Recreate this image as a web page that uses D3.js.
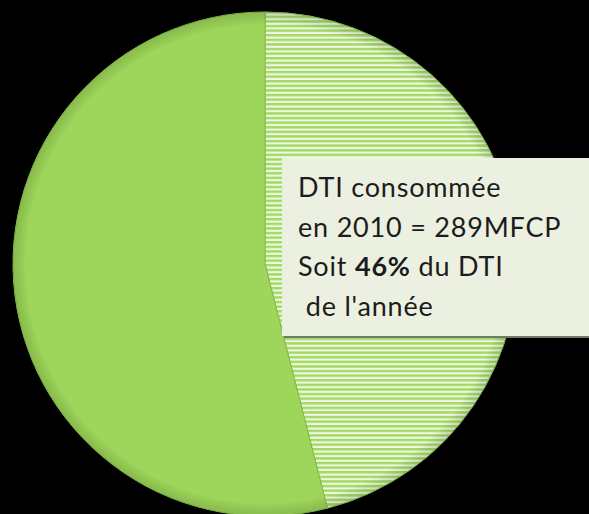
<!DOCTYPE html>
<html>
<head>
<meta charset="utf-8">
<script src="https://cdn.jsdelivr.net/npm/d3@7"></script>
<style>
  body { margin: 0; background: #000; }
  svg { display: block; }
</style>
</head>
<body>
<svg id="chart"></svg>
<script>
// data
const categories = ["DTI consommée", "DTI restante"];
const values = [289, 339];
const labelLines = [
    [{t: "DTI consommée"}],
    [{t: "en 2010 = 289MFCP"}],
    [{t: "Soit "}, {t: "46%", bold: true}, {t: " du DTI"}],
    [{t: "\u00a0de l'année"}]
];

const width = 589;
const height = 514;
const cx = 265;
const cy = 264;
const radius = 252;

const svg = d3.select("#chart")
    .attr("width", width)
    .attr("height", height);

const defs = svg.append("defs");

// horizontal stripes for the consumed slice
const pat = defs.append("pattern")
    .attr("id", "stripes")
    .attr("patternUnits", "userSpaceOnUse")
    .attr("width", 8)
    .attr("height", 4.6);
pat.append("rect").attr("width", 8).attr("height", 4.6).attr("fill", "#f0f9e6");
pat.append("rect").attr("y", 0).attr("width", 8).attr("height", 2.5).attr("fill", "#a2da62");

// soft shading so the pie looks a bit raised
const shade = defs.append("radialGradient")
    .attr("id", "shade")
    .attr("cx", "50%").attr("cy", "50%").attr("r", "50%");
shade.append("stop").attr("offset", "0.95").attr("stop-color", "#000").attr("stop-opacity", 0);
shade.append("stop").attr("offset", "1").attr("stop-color", "#2a4a10").attr("stop-opacity", 0.18);

const fills = ["url(#stripes)", "#9dd65a"];

const pie = d3.pie().value(d => d).sort(null);
const arc = d3.arc().innerRadius(0).outerRadius(radius);

const g = svg.append("g")
    .attr("transform", "translate(" + cx + "," + cy + ")");

g.selectAll("path.slice")
    .data(pie(values))
    .enter()
    .append("path")
    .attr("class", "slice")
    .attr("d", arc)
    .attr("fill", (d, i) => fills[i])
    .attr("stroke", "#86bb4a")
    .attr("stroke-width", 1)
    .append("title")
    .text((d, i) => categories[i]);

g.append("circle")
    .attr("r", radius)
    .attr("fill", "url(#shade)")
    .attr("pointer-events", "none");

// label box
const box = svg.append("g").attr("transform", "translate(282,158)");
box.append("rect")
    .attr("x", 2).attr("y", 2)
    .attr("width", 320).attr("height", 178)
    .attr("fill", "#6f7a68");
box.append("rect")
    .attr("width", 320).attr("height", 178)
    .attr("fill", "#ebf0e0");

const text = box.append("text")
    .attr("font-family", "Lato, 'Open Sans', sans-serif")
    .attr("font-size", 27)
    .attr("letter-spacing", 0.8)
    .attr("fill", "#1c1c1c");

labelLines.forEach((line, i) => {
    const tl = text.append("tspan")
        .attr("x", 16)
        .attr("y", 39 + i * 39.5);
    line.forEach(part => {
        tl.append("tspan")
            .attr("font-weight", part.bold ? "bold" : null)
            .text(part.t);
    });
});
</script>
</body>
</html>
